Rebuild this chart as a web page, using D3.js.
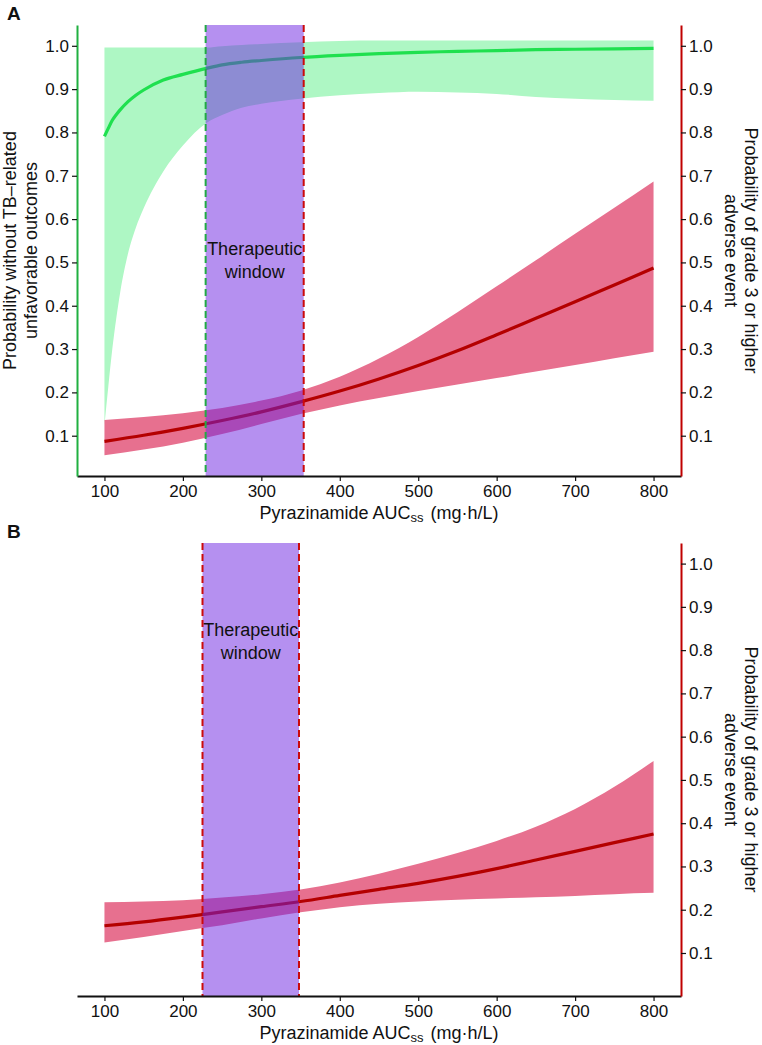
<!DOCTYPE html>
<html>
<head>
<meta charset="utf-8">
<script src="https://cdn.jsdelivr.net/npm/d3@7"></script>
<style>
  body { margin: 0; background: #fff; }
  svg { display: block; font-family: "Liberation Sans", Arial, sans-serif; }
</style>
</head>
<body>
<div id="chart-area"></div>
<script>
// AUC grid used for the adverse-event curves (mg·h/L)
var aucGrid = [100, 150, 200, 250, 300, 350, 400, 450, 500, 550, 600, 650, 700, 750, 800];

// panel A: probability of grade >=3 adverse event
var aeA_mid = [0.087, 0.101, 0.117, 0.135, 0.155, 0.178, 0.203, 0.231, 0.262, 0.296, 0.333, 0.371, 0.409, 0.448, 0.487];
var aeA_lo  = [0.055, 0.068, 0.084, 0.104, 0.127, 0.150, 0.170, 0.187, 0.203, 0.218, 0.233, 0.248, 0.263, 0.279, 0.294];
var aeA_hi  = [0.136, 0.143, 0.152, 0.164, 0.181, 0.204, 0.236, 0.278, 0.328, 0.385, 0.445, 0.505, 0.566, 0.626, 0.687];

// panel A: probability without TB-related unfavorable outcomes
var effGrid = [100, 105, 110, 115, 120, 130, 140, 150, 175, 200, 230, 250, 275, 300, 350, 400, 450, 500, 550, 600, 650, 700, 750, 800];
var eff_mid = [0.791, 0.810, 0.828, 0.841, 0.852, 0.871, 0.886, 0.898, 0.921, 0.934, 0.948, 0.956, 0.962, 0.966, 0.973, 0.978, 0.982, 0.985, 0.987, 0.989, 0.991, 0.992, 0.993, 0.994];
var eff_lo  = [0.125, 0.215, 0.300, 0.370, 0.430, 0.520, 0.580, 0.625, 0.710, 0.770, 0.822, 0.840, 0.857, 0.866, 0.878, 0.886, 0.891, 0.894, 0.892, 0.889, 0.882, 0.878, 0.875, 0.873];
var eff_hi  = [0.996, 0.996, 0.996, 0.996, 0.996, 0.996, 0.996, 0.996, 0.996, 0.996, 0.996, 0.999, 1.002, 1.004, 1.008, 1.011, 1.012, 1.012, 1.012, 1.012, 1.012, 1.012, 1.012, 1.012];

// panel B: probability of grade >=3 adverse event
var aeB_mid = [0.163, 0.172, 0.183, 0.195, 0.207, 0.219, 0.233, 0.247, 0.261, 0.277, 0.295, 0.315, 0.335, 0.355, 0.375];
var aeB_lo  = [0.124, 0.137, 0.151, 0.164, 0.180, 0.194, 0.206, 0.214, 0.219, 0.223, 0.226, 0.229, 0.232, 0.236, 0.239];
var aeB_hi  = [0.217, 0.219, 0.222, 0.228, 0.236, 0.247, 0.263, 0.283, 0.306, 0.331, 0.359, 0.392, 0.433, 0.484, 0.544];

// therapeutic windows
var windowA = [229, 354];
var windowB = [225, 348];

var xTicks = [100, 200, 300, 400, 500, 600, 700, 800];
var yTicks = [0.1, 0.2, 0.3, 0.4, 0.5, 0.6, 0.7, 0.8, 0.9, 1.0];

var width = 762, height = 1045;
var fontTick = "17px", fontTitle = "18px";

var svg = d3.select("#chart-area").append("svg")
	.attr("width", width)
	.attr("height", height);

var x = d3.scaleLinear().domain([65, 835]).range([77, 681]);

function zip(xs, ys) {
	return xs.map(function(d, i) { return {x: d, y: ys[i]}; });
}
function zip3(xs, lo, hi) {
	return xs.map(function(d, i) { return {x: d, lo: lo[i], hi: hi[i]}; });
}

function drawPanel(p) {
	var y = d3.scaleLinear().domain(p.yDomain).range([p.bottom, p.top]);
	var g = svg.append("g");

	var area = d3.area().curve(d3.curveMonotoneX)
		.x(function(d) { return x(d.x); })
		.y0(function(d) { return y(d.lo); })
		.y1(function(d) { return y(d.hi); });
	var line = d3.line().curve(d3.curveMonotoneX)
		.x(function(d) { return x(d.x); })
		.y(function(d) { return y(d.y); });

	if (p.eff) {
		g.append("path").attr("d", area(zip3(effGrid, eff_lo, eff_hi)))
			.attr("fill", "#aef7c4");
	}
	g.append("path").attr("d", area(zip3(aucGrid, p.lo, p.hi)))
		.attr("fill", "#e7708f");
	if (p.eff) {
		g.append("path").attr("d", line(zip(effGrid, eff_mid)))
			.attr("fill", "none").attr("stroke", "#1fe04f").attr("stroke-width", 3.2);
	}
	g.append("path").attr("d", line(zip(aucGrid, p.mid)))
		.attr("fill", "none").attr("stroke", "#b40000").attr("stroke-width", 3.2);

	// therapeutic window
	g.append("rect")
		.attr("x", x(p.win[0]))
		.attr("y", p.top)
		.attr("width", x(p.win[1]) - x(p.win[0]))
		.attr("height", p.bottom - p.top)
		.attr("fill", "#6b22e2")
		.attr("fill-opacity", 0.5);

	g.append("line")
		.attr("x1", x(p.win[0])).attr("x2", x(p.win[0]))
		.attr("y1", p.top).attr("y2", p.bottom)
		.attr("stroke", p.eff ? "#22aa44" : "#cc0a0a")
		.attr("stroke-width", 2)
		.attr("stroke-dasharray", "7,4");
	g.append("line")
		.attr("x1", x(p.win[1])).attr("x2", x(p.win[1]))
		.attr("y1", p.top).attr("y2", p.bottom)
		.attr("stroke", "#cc0a0a")
		.attr("stroke-width", 2)
		.attr("stroke-dasharray", "7,4");

	var wx = (x(p.win[0]) + x(p.win[1])) / 2;
	g.append("text")
		.attr("x", wx).attr("y", y(p.textY))
		.attr("text-anchor", "middle")
		.attr("font-size", fontTitle)
		.attr("fill", "#111")
		.text("Therapeutic");
	g.append("text")
		.attr("x", wx).attr("y", y(p.textY) + 23)
		.attr("text-anchor", "middle")
		.attr("font-size", fontTitle)
		.attr("fill", "#111")
		.text("window");

	// bottom axis
	var xAxis = g.append("g")
		.attr("transform", "translate(0," + p.bottom + ")")
		.call(d3.axisBottom(x).tickValues(xTicks).tickSize(5).tickSizeOuter(0).tickPadding(4));
	xAxis.select(".domain").attr("stroke", "#111").attr("stroke-width", 2);
	xAxis.selectAll(".tick line").attr("stroke", "#111").attr("stroke-width", 1.2);
	xAxis.selectAll("text").attr("font-size", fontTick).attr("fill", "#111")
		.attr("font-family", "Liberation Sans, Arial, sans-serif");

	// right axis
	var rAxis = g.append("g")
		.attr("transform", "translate(681,0)")
		.call(d3.axisRight(y).tickValues(yTicks).tickFormat(d3.format(".1f")).tickSize(5).tickSizeOuter(0).tickPadding(3));
	rAxis.select(".domain").attr("stroke", "#c00000").attr("stroke-width", 2);
	rAxis.selectAll(".tick line").attr("stroke", "#111").attr("stroke-width", 1.2);
	rAxis.selectAll("text").attr("font-size", fontTick).attr("fill", "#111")
		.attr("font-family", "Liberation Sans, Arial, sans-serif");

	// left axis (panel A only)
	if (p.eff) {
		var lAxis = g.append("g")
			.attr("transform", "translate(77,0)")
			.call(d3.axisLeft(y).tickValues(yTicks).tickFormat(d3.format(".1f")).tickSize(5).tickSizeOuter(0).tickPadding(3));
		lAxis.select(".domain").attr("stroke", "#20b040").attr("stroke-width", 2);
		lAxis.selectAll(".tick line").attr("stroke", "#111").attr("stroke-width", 1.2);
		lAxis.selectAll("text").attr("font-size", fontTick).attr("fill", "#111")
			.attr("font-family", "Liberation Sans, Arial, sans-serif");

		var cyL = (p.top + p.bottom) / 2;
		var leftLab = g.append("text")
			.attr("transform", "translate(16," + cyL + ") rotate(-90)")
			.attr("text-anchor", "middle")
			.attr("font-size", fontTitle)
			.attr("fill", "#111");
		leftLab.append("tspan").attr("x", 0).attr("dy", 0).text("Probability without TB\u2013related");
		leftLab.append("tspan").attr("x", 0).attr("dy", 20.5).text("unfavorable outcomes");
	}

	// right title
	var cy = (p.top + p.bottom) / 2;
	var rightLab = g.append("text")
		.attr("transform", "translate(745," + cy + ") rotate(90)")
		.attr("text-anchor", "middle")
		.attr("font-size", fontTitle)
		.attr("fill", "#111");
	rightLab.append("tspan").attr("x", 0).attr("dy", 0).text("Probability of grade 3 or higher");
	rightLab.append("tspan").attr("x", 0).attr("dy", 20).text("adverse event");

	// x title
	var xt = g.append("text")
		.attr("x", 379).attr("y", p.bottom + 43)
		.attr("text-anchor", "middle")
		.attr("font-size", fontTitle)
		.attr("fill", "#111");
	xt.append("tspan").text("Pyrazinamide AUC");
	xt.append("tspan").attr("font-size", "13px").attr("dy", 3).text("ss");
	xt.append("tspan").attr("dy", -3).attr("dx", 7).text("(mg\u00b7h/L)");

	// panel letter
	g.append("text")
		.attr("x", 7).attr("y", p.top - 5.5)
		.attr("font-size", "19px")
		.attr("font-weight", "bold")
		.attr("fill", "#111")
		.text(p.letter);
}

drawPanel({letter: "A", top: 25, bottom: 476, yDomain: [0.007, 1.048],
	mid: aeA_mid, lo: aeA_lo, hi: aeA_hi, eff: true, win: windowA, textY: 0.517});
drawPanel({letter: "B", top: 543, bottom: 996, yDomain: [0.0006, 1.0476],
	mid: aeB_mid, lo: aeB_lo, hi: aeB_hi, eff: false, win: windowB, textY: 0.833});
</script>
</body>
</html>
